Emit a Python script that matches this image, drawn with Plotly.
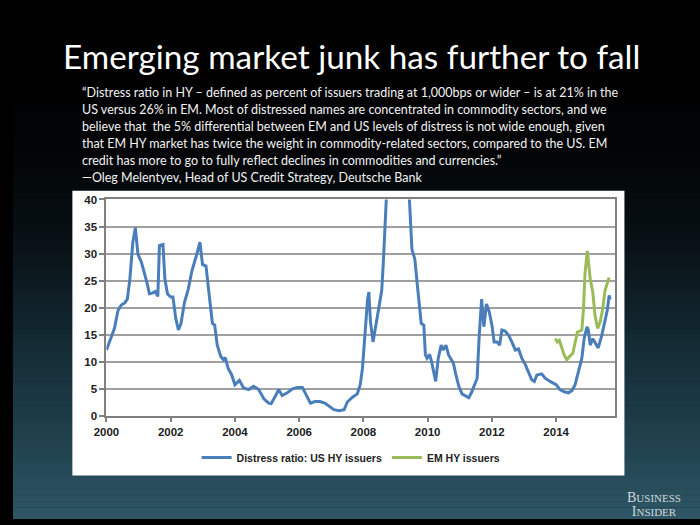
import plotly.graph_objects as go

# ---------------- data ----------------
us_year = [
    2000.00, 2000.13, 2000.25, 2000.36, 2000.46, 2000.57, 2000.65, 2000.73, 2000.82, 2000.90,
    2000.98, 2001.09, 2001.17, 2001.26, 2001.34, 2001.43, 2001.52, 2001.60, 2001.65, 2001.76,
    2001.82, 2001.90, 2002.00, 2002.07, 2002.16, 2002.24, 2002.32, 2002.43, 2002.55, 2002.66,
    2002.80, 2002.91, 2002.99, 2003.10, 2003.20, 2003.30, 2003.37, 2003.45, 2003.56, 2003.64,
    2003.70, 2003.79, 2003.90, 2004.00, 2004.14, 2004.27, 2004.43, 2004.58, 2004.74, 2004.90,
    2005.05, 2005.13, 2005.26, 2005.36, 2005.47, 2005.63, 2005.78, 2005.94, 2006.10, 2006.22,
    2006.35, 2006.49, 2006.64, 2006.80, 2006.95, 2007.08, 2007.24, 2007.40, 2007.50, 2007.66,
    2007.81, 2007.90, 2007.97, 2008.05, 2008.13, 2008.17, 2008.22, 2008.30, 2008.38, 2008.48,
    2008.57, 2008.62, 2008.67, 2008.80, 2008.95, 2009.10, 2009.25, 2009.43, 2009.51, 2009.60,
    2009.67, 2009.74, 2009.80, 2009.88, 2009.93, 2009.98, 2010.06, 2010.12, 2010.20, 2010.25,
    2010.33, 2010.42, 2010.48, 2010.57, 2010.65, 2010.73, 2010.80, 2010.88, 2010.97, 2011.07,
    2011.20, 2011.28, 2011.36, 2011.46, 2011.54, 2011.60, 2011.68, 2011.75, 2011.83, 2011.92,
    2012.00, 2012.07, 2012.16, 2012.24, 2012.31, 2012.41, 2012.52, 2012.62, 2012.73, 2012.83,
    2012.93, 2013.04, 2013.14, 2013.24, 2013.32, 2013.40, 2013.55, 2013.66, 2013.81, 2013.91,
    2014.00, 2014.12, 2014.25, 2014.38, 2014.49, 2014.59, 2014.70, 2014.80, 2014.87, 2014.96,
    2015.00, 2015.06, 2015.14, 2015.21, 2015.31, 2015.42, 2015.52, 2015.59, 2015.65, 2015.68,
]
us_value = [
    12.2, 14.3, 16.2, 19.5, 20.5, 20.9, 21.6, 25.3, 32.0, 34.8,
    29.9, 28.4, 26.8, 24.7, 22.6, 22.7, 23.0, 22.1, 31.5, 31.7,
    25.3, 22.6, 22.0, 22.0, 18.0, 15.9, 17.1, 21.0, 23.5, 26.8,
    29.6, 32.1, 28.0, 27.7, 22.3, 17.1, 16.8, 13.1, 11.0, 10.4,
    10.8, 8.8, 7.6, 5.8, 6.6, 5.2, 4.9, 5.5, 4.9, 3.2,
    2.4, 2.3, 3.7, 4.9, 3.8, 4.3, 5.0, 5.3, 5.3, 4.0,
    2.4, 2.7, 2.7, 2.4, 1.8, 1.2, 1.0, 1.2, 2.6, 3.5,
    4.1, 5.8, 8.8, 16.2, 21.6, 22.9, 17.4, 13.7, 16.5, 20.4,
    23.2, 28.4, 40.5, 58.0, 70.0, 68.0, 55.0, 40.2, 30.8, 29.0,
    24.7, 20.4, 17.1, 16.8, 11.3, 10.7, 11.4, 10.1, 7.6, 6.4,
    10.7, 13.1, 12.2, 13.1, 11.3, 10.4, 9.8, 7.6, 5.5, 4.1,
    3.7, 3.4, 4.3, 5.8, 7.0, 14.3, 21.6, 16.5, 20.7, 19.2,
    16.8, 13.7, 13.7, 13.1, 15.9, 15.7, 14.9, 13.7, 12.2, 12.4,
    10.7, 9.5, 8.2, 6.7, 6.4, 7.6, 7.8, 7.0, 6.4, 6.1,
    5.8, 4.9, 4.5, 4.3, 4.7, 5.8, 8.2, 10.7, 14.3, 16.5,
    15.9, 13.1, 14.3, 13.7, 12.6, 14.9, 17.7, 19.5, 22.3, 21.5,
]

em_year = [
    2013.97, 2014.04, 2014.10, 2014.17, 2014.25, 2014.33, 2014.41, 2014.52, 2014.59, 2014.66,
    2014.80, 2014.85, 2014.90, 2014.97, 2015.06, 2015.14, 2015.21, 2015.29, 2015.37, 2015.45,
    2015.52, 2015.59, 2015.65,
]
em_value = [
    14.3, 13.7, 14.0, 12.8, 11.3, 10.4, 11.0, 11.6, 13.7, 15.5,
    15.9, 19.8, 26.5, 30.5, 25.3, 22.9, 18.6, 16.2, 17.4, 19.8,
    23.2, 24.7, 25.6,
]

series_names = ["Distress ratio: US HY issuers", "EM HY issuers"]
x_tick_years = [2000, 2002, 2004, 2006, 2008, 2010, 2012, 2014]
x_tick_labels = ["2000", "2002", "2004", "2006", "2008", "2010", "2012", "2014"]
y_ticks = [0, 5, 10, 15, 20, 25, 30, 35, 40]

title_text = "Emerging market junk has further to fall"
quote_lines = [
    "\u201cDistress ratio in HY \u2013 defined as percent of issuers trading at 1,000bps or wider \u2013 is at 21% in the",
    "US versus 26% in EM. Most of distressed names are concentrated in commodity sectors, and we",
    "believe that  the 5% differential between EM and US levels of distress is not wide enough, given",
    "that EM HY market has twice the weight in commodity-related sectors, compared to the US. EM",
    "credit has more to go to fully reflect declines in commodities and currencies.\u201d",
    "\u2014Oleg Melentyev, Head of US Credit Strategy, Deutsche Bank",
]

# ---------------- figure ----------------
W, H = 700, 525

def py(y):  # pixel-from-top -> paper
    return 1 - y / H

fig = go.Figure()
fig.add_trace(go.Scatter(x=us_year, y=us_value, mode="lines", name=series_names[0],
                         line=dict(color="#4a7ebb", width=3)))
fig.add_trace(go.Scatter(x=em_year, y=em_value, mode="lines", name=series_names[1],
                         line=dict(color="#9bbb59", width=3)))

# background gradient (styling only)
stops = [(0, (0, 0, 0)), (150, (2, 4, 5)), (250, (9, 19, 23)), (350, (20, 44, 53)),
         (450, (33, 66, 78)), (525, (47, 87, 102))]
shapes = []
nb = 70
for i in range(nb):
    y0 = 100 + i * (H - 100) / nb
    y1 = 100 + (i + 1) * (H - 100) / nb + 0.5
    ym = (y0 + y1) / 2
    for j in range(len(stops) - 1):
        a, ca = stops[j]
        b, cb = stops[j + 1]
        if a <= ym <= b:
            t = (ym - a) / (b - a)
            c = tuple(round(ca[k] + t * (cb[k] - ca[k])) for k in range(3))
            break
    shapes.append(dict(type="rect", xref="paper", yref="paper", x0=0, x1=1,
                       y0=py(min(y1, H)), y1=py(y0), line=dict(width=0),
                       fillcolor="rgb(%d,%d,%d)" % c, layer="below"))
# white chart panel
shapes.append(dict(type="rect", xref="paper", yref="paper", x0=60.5 / W, x1=623 / W,
                   y0=py(480.5), y1=py(189), line=dict(width=0), fillcolor="white",
                   layer="below"))

annotations = [
    dict(text=title_text, x=345 / W, y=py(51), xref="paper", yref="paper",
         xanchor="center", yanchor="middle", showarrow=False,
         font=dict(family="Lato", size=33.3, color="white")),
]
line_y = [89, 106.4, 123.8, 141.2, 158.6, 176]
for txt, yy in zip(quote_lines, line_y):
    annotations.append(dict(text=txt, x=68 / W, y=py(yy), xref="paper", yref="paper",
                            xanchor="left", yanchor="middle", showarrow=False,
                            font=dict(family="Lato", size=12.5, color="#f2f2f2")))
annotations.append(dict(text="<span style='font-size:14px'>B</span>USINESS<br><span style='font-size:14px'>I</span>NSIDER",
                        x=653 / W, y=py(510), xref="paper", yref="paper",
                        xanchor="center", yanchor="middle", showarrow=False, align="center",
                        font=dict(family="Liberation Serif", size=11, color="#cfd8dc")))

tickfont = dict(family="Liberation Sans", size=11.5, color="#222222", weight="bold")

fig.update_layout(
    width=W, height=H,
    margin=dict(l=0, r=0, t=0, b=0),
    paper_bgcolor="#000000",
    plot_bgcolor="white",
    shapes=shapes,
    annotations=annotations,
    showlegend=True,
    hovermode=False,
    legend=dict(orientation="h", x=344.5 / W, xanchor="center", y=py(462), yanchor="middle",
                bgcolor="rgba(0,0,0,0)", font=dict(family="Liberation Sans", size=10.5,
                                                    color="#222222", weight="bold"),
                itemwidth=30),
    xaxis=dict(domain=[95.2 / W, 613 / W], range=[2000, 2015.82],
               tickvals=x_tick_years, ticktext=x_tick_labels,
               ticks="outside", ticklen=4, tickcolor="#808080", tickwidth=1.5,
               showline=True, linecolor="#808080", linewidth=2, mirror=True,
               showgrid=False, zeroline=False, tickfont=tickfont),
    yaxis=dict(domain=[py(419.7), py(198)], range=[0, 40], tickvals=y_ticks,
               ticks="outside", ticklen=5, tickcolor="#808080", tickwidth=1.5,
               showline=True, linecolor="#808080", linewidth=2, mirror=True,
               showgrid=True, gridcolor="#a0a0a0", gridwidth=1.5,
               zeroline=False, tickfont=tickfont),
)

fig.write_html("out.html", config={"displayModeBar": False},
               post_script="document.body.style.margin='0';document.body.style.overflow='hidden';")
